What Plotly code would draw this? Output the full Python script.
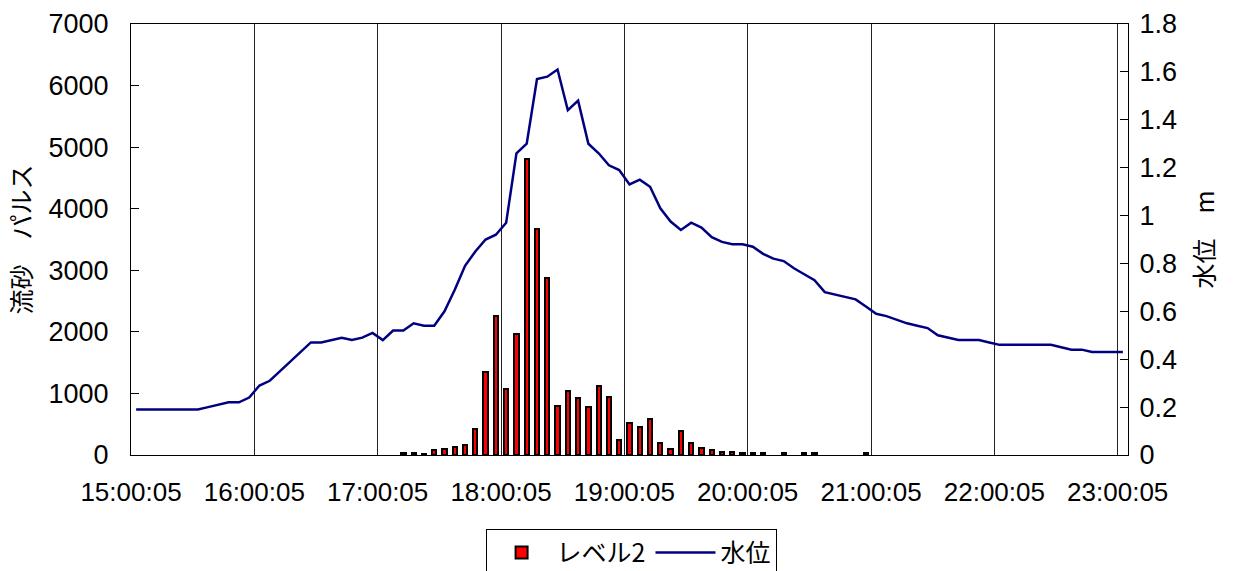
import datetime as dt
import plotly.graph_objects as go

# ---- data (5-minute readings) ----
start = dt.datetime(2000, 1, 1, 15, 0, 5)
times = [(start + dt.timedelta(minutes=5 * i)).strftime("%H:%M:%S") for i in range(97)]

# 流砂パルス (レベル2), one value per 5-minute category
level2 = [0] * 26 + [
    30, 30, 20, 80, 90, 130, 160, 420, 1350, 2250,      # 26-35
    1080, 1960, 4800, 3670, 2870, 800, 1040, 920, 780, 1120,  # 36-45
    940, 240, 520, 450, 580, 200, 100, 390, 200, 110,   # 46-55
    80, 50, 50, 40, 40, 40, 0, 30, 0, 30,               # 56-65
    30, 0, 0, 0, 0, 30,                                 # 66-71
] + [0] * 25

# 水位 (m)
water = [
    0.19, 0.19, 0.19, 0.19, 0.19, 0.19, 0.19, 0.20, 0.21, 0.22,
    0.22, 0.24, 0.29, 0.31, 0.35, 0.39, 0.43, 0.47, 0.47, 0.48,
    0.49, 0.48, 0.49, 0.51, 0.48, 0.52, 0.52, 0.55, 0.54, 0.54,
    0.60, 0.69, 0.79, 0.85, 0.90, 0.92, 0.97, 1.26, 1.30, 1.57,
    1.58, 1.61, 1.44, 1.48, 1.30, 1.26, 1.21, 1.19, 1.13, 1.15,
    1.12, 1.03, 0.975, 0.94, 0.97, 0.95, 0.91, 0.89, 0.88, 0.88,
    0.87, 0.84, 0.82, 0.81, 0.78, 0.755, 0.73, 0.68, 0.67, 0.66,
    0.65, 0.62, 0.59, 0.58, 0.565, 0.55, 0.54, 0.53, 0.50, 0.49,
    0.48, 0.48, 0.48, 0.47, 0.46, 0.46, 0.46, 0.46, 0.46, 0.46,
    0.45, 0.44, 0.44, 0.43, 0.43, 0.43, 0.43,
]

tick_every = 12  # hourly labels

idx = list(range(len(times)))
tickvals = [i - 0.5 for i in idx[::tick_every]]
ticktext = times[::tick_every]

YFONT = dict(family="Liberation Sans, Arial, sans-serif", size=27, color="black")
XFONT = dict(family="Liberation Sans, Arial, sans-serif", size=26, color="black")
CJK = "Noto Sans CJK JP, sans-serif"

fig = go.Figure()
fig.add_trace(go.Bar(
    x=idx, y=[v if v > 0 else None for v in level2], name="レベル2",
    width=0.42,
    marker=dict(color="#ff0000", line=dict(color="black", width=2)),
    yaxis="y",
))
fig.add_trace(go.Scatter(
    x=idx, y=water, name="水位", mode="lines",
    line=dict(color="#000080", width=2.5),
    yaxis="y2",
))

fig.update_layout(
    template="none",
    width=1235, height=571,
    margin=dict(l=131, r=107, t=24, b=116, autoexpand=False),
    paper_bgcolor="white", plot_bgcolor="white",
    showlegend=True,
    bargap=0,
    legend=dict(
        orientation="h", xref="container", yref="container",
        x=0.511, xanchor="center", y=0.074, yanchor="top",
        bordercolor="black", borderwidth=1, bgcolor="white",
        font=dict(family=CJK, size=25, color="black"),
        itemwidth=60, traceorder="normal",
    ),
    xaxis=dict(
        automargin=False,
        range=[-0.5, len(times) - 0.5],
        tickmode="array", tickvals=tickvals, ticktext=ticktext,
        showgrid=True, gridcolor="#222222", gridwidth=1,
        showline=True, linecolor="black", linewidth=1, mirror=True,
        ticks="", tickfont=XFONT, ticklabelstandoff=14,
        zeroline=False,
    ),
    yaxis=dict(
        automargin=False,
        range=[0, 7000], dtick=1000, tick0=0,
        showgrid=False, zeroline=False,
        showline=True, linecolor="black", linewidth=1,
        ticks="inside", ticklen=8, tickcolor="black",
        tickfont=YFONT, ticklabelstandoff=16,
        title=dict(text="流砂　パルス", font=dict(family=CJK, size=25, color="black"), standoff=9),
    ),
    yaxis2=dict(
        automargin=False,
        range=[0, 1.8], dtick=0.2, tick0=0,
        overlaying="y", side="right",
        showgrid=False, zeroline=False,
        showline=True, linecolor="black", linewidth=1,
        ticks="inside", ticklen=8, tickcolor="black",
        tickfont=YFONT, ticklabelstandoff=5,
        title=dict(text="水位　m", font=dict(family=CJK, size=25, color="black"), standoff=20),
    ),
)

fig.write_html(
    "out.html",
    config={"displayModeBar": False},
    post_script="document.body.style.margin='0';document.body.style.overflow='hidden';",
)
